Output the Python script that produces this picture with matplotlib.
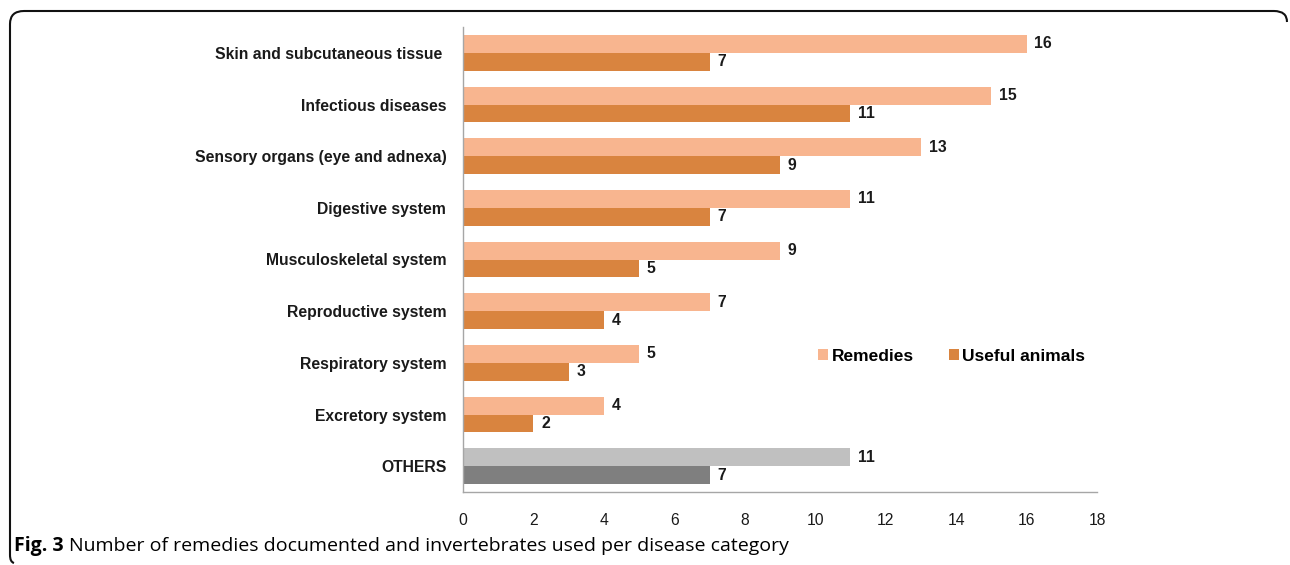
import matplotlib
matplotlib.use('Agg')
import matplotlib.pyplot as plt
import numpy as np
from matplotlib.path import Path
from matplotlib.patches import PathPatch

categories = ["Skin and subcutaneous tissue ", "Infectious diseases",
              "Sensory organs (eye and adnexa)", "Digestive system",
              "Musculoskeletal system", "Reproductive system",
              "Respiratory system", "Excretory system", "OTHERS"]
remedies = [16, 15, 13, 11, 9, 7, 5, 4, 11]
useful = [7, 11, 9, 7, 5, 4, 3, 2, 7]
xticks = [0, 2, 4, 6, 8, 10, 12, 14, 16, 18]

c_rem = '#F8B58F'
c_use = '#D9843F'
c_rem_other = '#C0C0C0'
c_use_other = '#7F7F7F'

plt.rcParams['font.family'] = ['Liberation Sans', 'DejaVu Sans']

W, H = 1290, 565
fig = plt.figure(figsize=(W / 100, H / 100), dpi=100)
ax = fig.add_axes([463 / W, 1 - 492 / H, (1097 - 463) / W, (492 - 27) / H])

y = np.arange(len(categories))
h = 0.345
rem_colors = [c_rem] * (len(categories) - 1) + [c_rem_other]
use_colors = [c_use] * (len(categories) - 1) + [c_use_other]
ax.barh(y - h / 2, remedies, height=h, color=rem_colors, label='Remedies')
ax.barh(y + h / 2, useful, height=h, color=use_colors, label='Useful animals')

# value labels
for yi, r, u in zip(y, remedies, useful):
    ax.text(r + 0.22, yi - h / 2, str(r), va='center', ha='left',
            fontsize=11.3, fontweight='bold', color='#1a1a1a')
    ax.text(u + 0.22, yi + h / 2, str(u), va='center', ha='left',
            fontsize=11.3, fontweight='bold', color='#1a1a1a')

ax.set_xlim(0, 18)
ax.set_ylim(len(categories) - 0.5, -0.5)
ax.set_yticks(y)
ax.set_yticklabels(categories, fontsize=11.3, fontweight='bold', color='#1a1a1a')
ax.set_xticks(xticks)
ax.set_xticklabels([str(t) for t in xticks], fontsize=11.3, color='#1a1a1a')
ax.tick_params(axis='y', length=0, pad=12)
ax.tick_params(axis='x', length=0, pad=15)
for s in ['top', 'right']:
    ax.spines[s].set_visible(False)
for s in ['left', 'bottom']:
    ax.spines[s].set_color('#A6A6A6')
    ax.spines[s].set_linewidth(1)

leg = ax.legend(loc='center left', bbox_to_anchor=(0.535, 0.292), ncol=2,
                frameon=False, handlelength=0.6, handleheight=0.6,
                handletextpad=0.2, columnspacing=2.0,
                prop={'weight': 'bold', 'size': 12.5})

# caption
fig.text(14 / W, 1 - 546 / H, 'Fig. 3', fontsize=14, fontweight='bold',
         family=['Open Sans', 'DejaVu Sans'], va='center', ha='left')
fig.text(69 / W, 1 - 546 / H,
         'Number of remedies documented and invertebrates used per disease category',
         fontsize=14, family=['Open Sans', 'DejaVu Sans'], va='center', ha='left')

# rounded frame (open at the right and bottom)
def px(x, yy):
    return (x / W, 1 - yy / H)

verts = [px(14, 563), px(10, 562), px(10, 555),
         px(10, 24), px(10, 11), px(24, 11),
         px(1274, 11), px(1287, 11), px(1287, 22)]
codes = [Path.MOVETO, Path.CURVE3, Path.CURVE3,
         Path.LINETO, Path.CURVE3, Path.CURVE3,
         Path.LINETO, Path.CURVE3, Path.CURVE3]
frame = PathPatch(Path(verts, codes), transform=fig.transFigure,
                  facecolor='none', edgecolor='#111111', linewidth=1.5)
fig.patches.append(frame)

fig.savefig('out.png', dpi=100, facecolor='white')
